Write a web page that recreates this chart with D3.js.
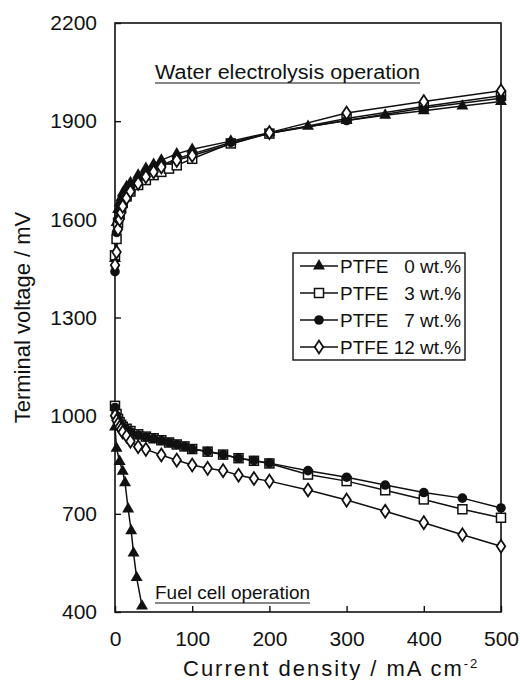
<!DOCTYPE html>
<html>
<head>
<meta charset="utf-8">
<script src="https://cdn.jsdelivr.net/npm/d3@7"></script>
<style>
  body { margin: 0; background: #fff; }
  svg text { font-family: "Liberation Sans", Arial, Helvetica, sans-serif; fill: #111; }
</style>
</head>
<body>
<svg id="chart" width="520" height="680"></svg>
<script>
// electrolysis branch (upper curves)
var ecX0 = [0, 2, 4, 6, 8, 10, 15, 20, 30, 40, 50, 60, 80, 100, 150, 200, 250, 300, 350, 400, 450, 500];
var ecV0 = [1480, 1590, 1630, 1650, 1665, 1680, 1700, 1712, 1735, 1756, 1768, 1781, 1800, 1814, 1839, 1865, 1884, 1902, 1918, 1932, 1946, 1960];
var ecX3 = [0, 2, 4, 6, 8, 10, 15, 20, 30, 40, 50, 60, 70, 80, 100, 150, 200, 300, 400, 500];
var ecV3 = [1490, 1540, 1590, 1615, 1635, 1650, 1670, 1685, 1705, 1720, 1735, 1745, 1755, 1765, 1785, 1832, 1862, 1908, 1945, 1978];
var ecX7 = [0, 2, 4, 6, 8, 10, 15, 20, 30, 40, 50, 60, 80, 100, 150, 200, 300, 400, 500];
var ecV7 = [1440, 1560, 1600, 1625, 1645, 1660, 1685, 1700, 1722, 1740, 1752, 1765, 1785, 1800, 1835, 1863, 1902, 1940, 1970];
var ecX12 = [0, 2, 4, 6, 8, 10, 15, 20, 30, 40, 50, 60, 80, 100, 200, 300, 400, 500];
var ecV12 = [1460, 1500, 1570, 1600, 1620, 1640, 1665, 1685, 1710, 1730, 1745, 1760, 1780, 1795, 1865, 1925, 1960, 1993];

// fuel cell branch (lower curves)
var fcX0 = [0, 2, 6, 10, 13, 17, 21, 24, 28, 35];
var fcV0 = [965, 900, 860, 830, 795, 715, 648, 580, 505, 418];
var fcX3 = [0, 2, 4, 6, 8, 10, 15, 20, 30, 40, 50, 60, 70, 80, 90, 100, 120, 140, 160, 180, 200, 250, 300, 350, 400, 450, 500];
var fcV3 = [1030, 1005, 990, 980, 972, 966, 960, 953, 943, 936, 931, 925, 918, 912, 906, 898, 890, 881, 870, 862, 854, 820, 800, 772, 744, 714, 688];
var fcX7 = [0, 2, 4, 6, 8, 10, 15, 20, 30, 40, 50, 60, 70, 80, 90, 100, 120, 140, 160, 180, 200, 250, 300, 350, 400, 450, 500];
var fcV7 = [1025, 1000, 988, 978, 970, 964, 958, 951, 941, 935, 930, 924, 918, 912, 906, 898, 891, 881, 870, 863, 855, 832, 812, 788, 765, 748, 718];
var fcX12 = [0, 2, 4, 6, 8, 10, 15, 20, 30, 40, 60, 80, 100, 120, 140, 160, 180, 200, 250, 300, 350, 400, 450, 500];
var fcV12 = [1000, 985, 975, 965, 958, 950, 938, 922, 905, 897, 880, 864, 849, 839, 832, 818, 808, 800, 773, 742, 708, 673, 636, 601];

var legendNames = ['PTFE   0 wt.%', 'PTFE   3 wt.%', 'PTFE   7 wt.%', 'PTFE 12 wt.%'];
var xTicks = [0, 100, 200, 300, 400, 500];
var yTicks = [400, 700, 1000, 1300, 1600, 1900, 2200];

var margin = { left: 115, top: 23, right: 19, bottom: 68 };
var svg = d3.select('#chart');
var W = 520 - margin.left - margin.right;
var H = 680 - margin.top - margin.bottom;
var g = svg.append('g').attr('transform', 'translate(' + margin.left + ',' + margin.top + ')');

var x = d3.scaleLinear().domain([0, 500]).range([0, W]);
var y = d3.scaleLinear().domain([400, 2200]).range([H, 0]);

function zip(xs, vs) {
    return xs.map(function (d, i) { return [d, vs[i]]; });
}

var series = [
    { kind: 0, pts: zip(ecX0, ecV0) }, { kind: 1, pts: zip(ecX3, ecV3) },
    { kind: 2, pts: zip(ecX7, ecV7) }, { kind: 3, pts: zip(ecX12, ecV12) },
    { kind: 0, pts: zip(fcX0, fcV0) }, { kind: 1, pts: zip(fcX3, fcV3) },
    { kind: 2, pts: zip(fcX7, fcV7) }, { kind: 3, pts: zip(fcX12, fcV12) }
];

// frame
g.append('rect').attr('width', W).attr('height', H)
    .attr('fill', 'none').attr('stroke', '#111').attr('stroke-width', 1.6);

// axes, ticks pointing inside
var xAxis = g.append('g').attr('transform', 'translate(0,' + H + ')')
    .call(d3.axisBottom(x).tickValues(xTicks).tickSizeInner(-6).tickSizeOuter(0).tickPadding(19));
var yAxis = g.append('g')
    .call(d3.axisLeft(y).tickValues(yTicks).tickFormat(d3.format('d'))
        .tickSizeInner(-6).tickSizeOuter(0).tickPadding(18));
[xAxis, yAxis].forEach(function (a) {
    a.select('.domain').remove();
    a.selectAll('line').attr('stroke', '#111').attr('stroke-width', 1.4);
    a.selectAll('text').attr('font-size', 21).attr('fill', '#111')
        .style('font-family', '"Liberation Sans", Arial, sans-serif');
});

var line = d3.line().x(function (d) { return x(d[0]); }).y(function (d) { return y(d[1]); });

function drawMarker(sel, kind) {
    if (kind === 0) {
        sel.append('path').attr('d', d3.symbol().type(d3.symbolTriangle).size(62))
            .attr('fill', '#111');
    } else if (kind === 1) {
        sel.append('rect').attr('x', -4.5).attr('y', -4.5).attr('width', 9).attr('height', 9)
            .attr('fill', '#fff').attr('stroke', '#111').attr('stroke-width', 1.5);
    } else if (kind === 2) {
        sel.append('circle').attr('r', 4.8).attr('fill', '#111');
    } else {
        sel.append('path').attr('d', d3.symbol().type(d3.symbolDiamond).size(48))
            .attr('transform', 'scale(1.15,1)')
            .attr('fill', '#fff').attr('stroke', '#111').attr('stroke-width', 1.6);
    }
}

series.forEach(function (s) {
    g.append('path').datum(s.pts).attr('d', line)
        .attr('fill', 'none').attr('stroke', '#111').attr('stroke-width', 1.5);
});
series.forEach(function (s) {
    g.append('g').selectAll('g').data(s.pts).enter().append('g')
        .attr('transform', function (d) { return 'translate(' + x(d[0]) + ',' + y(d[1]) + ')'; })
        .each(function () { drawMarker(d3.select(this), s.kind); });
});

// underlined annotations
function underlined(txt, px, py, size, len) {
    g.append('text').attr('x', px).attr('y', py).attr('font-size', size)
        .attr('textLength', len).attr('lengthAdjust', 'spacingAndGlyphs').text(txt);
    g.append('line').attr('x1', px).attr('x2', px + len).attr('y1', py + 4).attr('y2', py + 4)
        .attr('stroke', '#111').attr('stroke-width', 1.2);
}
underlined('Water electrolysis operation', 40, 56, 20, 265);
underlined('Fuel cell operation', 40, 576, 19, 155);

// legend
var lg = svg.append('g').attr('transform', 'translate(293,253)');
lg.append('rect').attr('width', 172).attr('height', 107)
    .attr('fill', '#fff').attr('stroke', '#111').attr('stroke-width', 1.4);
legendNames.forEach(function (name, i) {
    var row = lg.append('g').attr('transform', 'translate(0,' + (13 + i * 27) + ')');
    row.append('line').attr('x1', 7).attr('x2', 45).attr('stroke', '#111').attr('stroke-width', 1.5);
    row.append('g').attr('transform', 'translate(26,0)').call(function (m) { drawMarker(m, i); });
    row.append('text').attr('x', 47).attr('y', 6.5).attr('font-size', 18)
        .attr('textLength', 121).attr('lengthAdjust', 'spacingAndGlyphs')
        .style('white-space', 'pre').text(name);
});

// axis titles
svg.append('text').attr('x', 183).attr('y', 676).attr('font-size', 22)
    .attr('letter-spacing', 2)
    .html('Current density / mA cm<tspan dy="-8" font-size="13">-2</tspan>');
svg.append('text').attr('transform', 'translate(30,' + (margin.top + H / 2) + ') rotate(-90)')
    .attr('text-anchor', 'middle').attr('font-size', 22)
    .text('Terminal voltage / mV');
</script>
</body>
</html>
